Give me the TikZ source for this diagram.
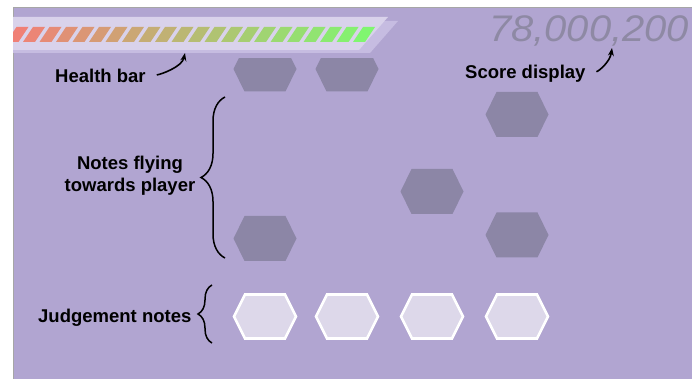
\documentclass[tikz,border=0pt]{standalone}
\usepackage{fontspec}
\setmainfont{Liberation Sans}
\newfontfamily\scorefont{Liberation Sans}[FakeStretch=1.08]
\usepackage{xcolor}
\usetikzlibrary{
	arrows.meta,
	decorations.pathreplacing,
	positioning
}

\definecolor{bgPurple}{RGB}{177,165,209}
\definecolor{noteDark}{RGB}{140,134,166}
\definecolor{noteLight}{RGB}{221,216,234}
\definecolor{barBack}{RGB}{217,210,235}
\definecolor{barShade}{RGB}{198,188,225}
\definecolor{hpLow}{RGB}{240,128,118}
\definecolor{hpHigh}{RGB}{128,246,112}
\definecolor{scoreGray}{RGB}{142,137,164}

\tikzset{
	lbl/.style={inner sep=0pt, font=\fontsize{18.5}{22}\selectfont\bfseries},
	callout/.style={-{Stealth[length=8pt,width=6pt]}, line width=1.6pt, shorten <=11pt},
	bracket/.style={decorate, line width=1.5pt},
	darkHex/.style={fill=noteDark},
	lightHex/.style={fill=noteLight, draw=white, line width=2.6pt}
}

\begin{document}
\begin{tikzpicture}[x=1pt, y=-1pt]
	\useasboundingbox (0,0) rectangle (699,379);
	
	% screen
	\fill[bgPurple] (13,8) rectangle (692,379);
	\draw[gray!70, line width=1pt] (13,379) -- (13,8) -- (692,8);
	
	% health bar
	\fill[barShade] (13,21) -- (398,21) -- (370,53) -- (13,53) -- cycle;
	\fill[barBack] (13,17) -- (388,17) -- (359,50) -- (13,50) -- cycle;
	\begin{scope}
		\clip (13,17) rectangle (400,54);
		\foreach \i in {0,...,21}{
			\pgfmathtruncatemacro\pct{\i*100/21}
			\fill[hpHigh!\pct!hpLow] (6.5+16.5*\i,42) -- ++(12,0) -- ++(10,-15) -- ++(-12,0) -- cycle;
		}
	\end{scope}
	
	% score
	\node[anchor=base west, inner sep=0pt, text=scoreGray,
		font=\scorefont\itshape\fontsize{37}{37}\selectfont] (score) at (489,42) {78,000,200};
	
	% notes flying in (top row is cut off)
	\begin{scope}
		\clip (13,59) rectangle (692,100);
		\foreach \x in {265,347}
			\fill[darkHex] (\x-31.5,69) -- ++(11,-22.5) -- ++(41,0) -- ++(11,22.5) -- ++(-11,22.5) -- ++(-41,0) -- cycle;
	\end{scope}
	\foreach \x/\y in {517/114.5, 432/191.5, 517/235, 265/238.5}
		\fill[darkHex] (\x-31.5,\y) -- ++(11,-22.5) -- ++(41,0) -- ++(11,22.5) -- ++(-11,22.5) -- ++(-41,0) -- cycle;
	
	% judgement notes
	\foreach \x in {265,347,432,517}
		\draw[lightHex] (\x-31,316.5) -- ++(11,-22) -- ++(40,0) -- ++(11,22) -- ++(-11,22) -- ++(-40,0) -- cycle;
	
	% labels
	\node[lbl, anchor=base west] (healthlbl) at (55,83) {Health bar};
	\coordinate (healthtip) at (185,53);
	\draw[callout] (healthlbl.east) .. controls +(15,-2) and +(-3,14) .. (healthtip);
	
	\node[lbl, anchor=base west] (scorelbl) at (465,79) {Score display};
	\coordinate (scoretip) at (612,48);
	\draw[callout] (scorelbl.east) .. controls +(13,-3) and +(-2,14) .. (scoretip);
	
	\node[lbl, align=center] (flylbl) at (130,176) {Notes flying\\towards player};
	\coordinate (flytop) at (225,97);
	\coordinate (flybot) at (225,258);
	\draw[bracket, decoration={brace, amplitude=24pt}] (flybot) -- (flytop);
	
	\node[lbl, anchor=base west] (judgelbl) at (38,323) {Judgement notes};
	\coordinate (judgetop) at (212,285);
	\coordinate (judgebot) at (212,343);
	\draw[bracket, decoration={brace, amplitude=14pt}] (judgebot) -- (judgetop);
\end{tikzpicture}
\end{document}
